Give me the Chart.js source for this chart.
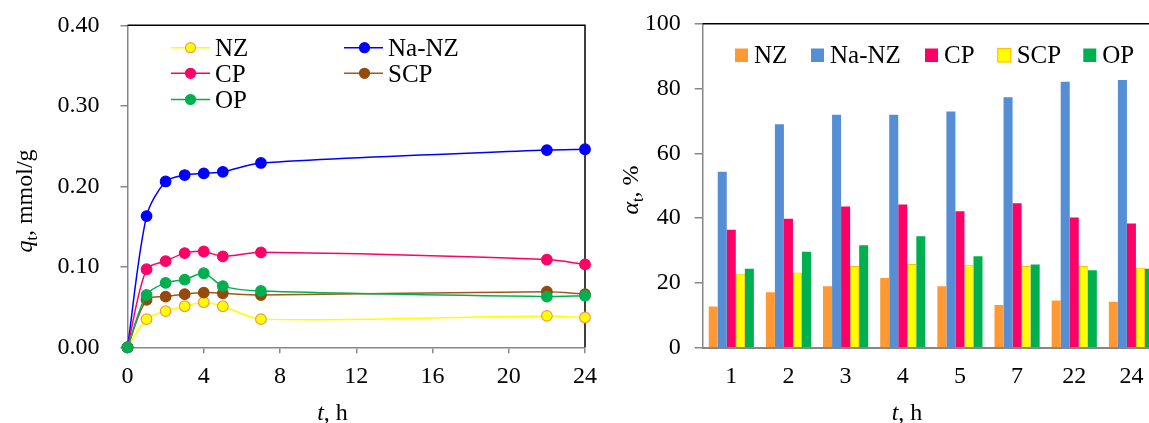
<!DOCTYPE html>
<html>
<head>
<meta charset="utf-8">
<script src="https://cdn.jsdelivr.net/npm/chart.js@4.4.1/dist/chart.umd.min.js"></script>
<style>
    html, body { margin: 0; padding: 0; background: #fff; overflow: hidden; }
    #wrap { position: relative; width: 1149px; height: 423px; overflow: hidden; }
    #leftBox { position: absolute; left: 0; top: 0; }
    #rightBox { position: absolute; left: 600px; top: 0; }
</style>
</head>
<body>
<div id="wrap">
    <div id="leftBox"><canvas id="qtChart" width="600" height="423"></canvas></div>
    <div id="rightBox"><canvas id="alphaChart" width="600" height="423"></canvas></div>
</div>
<script>
// left chart: q_t vs time
const hours = [0, 1, 2, 3, 4, 5, 7, 22, 24];
const qNZ   = [0, 0.035, 0.045, 0.051, 0.056, 0.051, 0.035, 0.039, 0.037];
const qNaNZ = [0, 0.163, 0.206, 0.214, 0.216, 0.218, 0.229, 0.245, 0.246];
const qCP   = [0, 0.097, 0.107, 0.117, 0.119, 0.113, 0.118, 0.109, 0.103];
const qSCP  = [0, 0.059, 0.063, 0.066, 0.068, 0.067, 0.065, 0.069, 0.066];
const qOP   = [0, 0.065, 0.080, 0.084, 0.092, 0.076, 0.070, 0.063, 0.064];

// right chart: alpha_t per time point
const tLabels = ['1', '2', '3', '4', '5', '7', '22', '24'];
const aNZ   = [12.7, 17.1, 19.0, 21.5, 19.0, 13.2, 14.6, 14.2];
const aNaNZ = [54.3, 69.0, 71.9, 71.9, 72.9, 77.3, 82.1, 82.6];
const aCP   = [36.4, 39.8, 43.6, 44.2, 42.1, 44.6, 40.2, 38.3];
const aSCP  = [22.8, 23.2, 25.2, 25.8, 25.6, 25.2, 25.2, 24.7];
const aOP   = [24.4, 29.6, 31.6, 34.4, 28.2, 25.7, 23.9, 24.4];

const SERIF = "'Liberation Serif', 'Times New Roman', serif";
const AXIS_GRAY = '#878787';

function pts(ys) {
    return hours.map((h, i) => ({ x: h, y: ys[i] }));
}

function partFont(p) {
    const size = p.sub ? 16 : (p.size || 24);
    return (p.italic ? 'italic ' : '') + size + 'px ' + SERIF;
}

// draws mixed italic / subscript text centred on (x, y) baseline
function drawRichText(ctx, parts, x, y, angle) {
    ctx.save();
    ctx.translate(x, y);
    ctx.rotate(angle);
    ctx.fillStyle = '#000';
    ctx.textBaseline = 'alphabetic';
    ctx.textAlign = 'left';
    let total = 0;
    parts.forEach(p => { ctx.font = partFont(p); total += ctx.measureText(p.text).width; });
    let cx = -total / 2;
    parts.forEach(p => {
        ctx.font = partFont(p);
        ctx.fillText(p.text, cx, p.sub ? 5 : 0);
        cx += ctx.measureText(p.text).width;
    });
    ctx.restore();
}

// keep the plot box where it is, whatever the tick labels want
function fixBox(size, isX) {
    return s => {
        if (isX) s.height = size; else s.width = size;
        s.paddingTop = 0; s.paddingBottom = 0;
        s.paddingLeft = 0; s.paddingRight = 0;
    };
}

const lineSeries = [
    { label: 'NZ', data: qNZ, line: '#FFFF00', fill: '#FFFF00', edge: '#F79646', order: 4 },
    { label: 'Na-NZ', data: qNaNZ, line: '#0000FF', fill: '#0000FF', edge: '#0000FF', order: 3 },
    { label: 'CP', data: qCP, line: '#FF0066', fill: '#FF0066', edge: '#FF0066', order: 2 },
    { label: 'SCP', data: qSCP, line: '#A5561F', fill: '#954A09', edge: '#954A09', order: 1 },
    { label: 'OP', data: qOP, line: '#00B050', fill: '#00B050', edge: '#00B050', order: 0 }
];

const leftDecor = {
    id: 'leftDecor',
    beforeDatasetsDraw(chart) {
        const ctx = chart.ctx;
        const a = chart.chartArea;
        ctx.save();
        ctx.strokeStyle = '#000';
        ctx.lineWidth = 1.5;
        ctx.beginPath();
        ctx.moveTo(a.left, a.top);
        ctx.lineTo(a.right, a.top);
        ctx.lineTo(a.right, a.bottom);
        ctx.stroke();
        ctx.restore();
    },
    afterDraw(chart) {
        const ctx = chart.ctx;
        // legend, two columns
        const cols = [{ line: 171, mark: 190.5, text: 215 }, { line: 344, mark: 364.5, text: 388 }];
        const rows = [47.7, 73.3, 99.5];
        ctx.save();
        lineSeries.forEach((s, i) => {
            const c = cols[i % 2];
            const y = rows[Math.floor(i / 2)];
            ctx.strokeStyle = s.line;
            ctx.lineWidth = 1.5;
            ctx.beginPath();
            ctx.moveTo(c.line, y);
            ctx.lineTo(c.line + 39, y);
            ctx.stroke();
            ctx.beginPath();
            ctx.arc(c.mark, y, 5, 0, Math.PI * 2);
            ctx.fillStyle = s.fill;
            ctx.fill();
            ctx.strokeStyle = s.edge;
            ctx.lineWidth = 1.2;
            ctx.stroke();
            ctx.fillStyle = '#000';
            ctx.font = '25px ' + SERIF;
            ctx.textBaseline = 'alphabetic';
            ctx.fillText(s.label, c.text, y + 8.3);
        });
        ctx.restore();
        drawRichText(ctx, [{ text: 'q', italic: true }, { text: 't', sub: true }, { text: ', mmol/g' }], 32.3, 201, -Math.PI / 2);
        drawRichText(ctx, [{ text: 't', italic: true }, { text: ', h' }], 332.5, 420, 0);
    }
};

new Chart(document.getElementById('qtChart'), {
    type: 'line',
    data: {
        datasets: lineSeries.map(s => ({
            label: s.label,
            data: pts(s.data),
            borderColor: s.line,
            borderWidth: 1.5,
            pointRadius: 5.3,
            pointBackgroundColor: s.fill,
            pointBorderColor: s.edge,
            pointBorderWidth: 1.2,
            tension: 0.3,
            clip: false,
            order: s.order
        }))
    },
    options: {
        responsive: false,
        animation: false,
        layout: { padding: { top: 25.3, right: 15, left: 0, bottom: 0 } },
        plugins: { legend: { display: false }, tooltip: { enabled: false } },
        scales: {
            x: {
                type: 'linear', min: 0, max: 24,
                ticks: { stepSize: 4, color: '#000', font: { family: SERIF, size: 24 }, padding: 9 },
                grid: { drawOnChartArea: false, tickLength: 6, color: AXIS_GRAY, lineWidth: 1.5 },
                border: { color: AXIS_GRAY, width: 1.5 },
                afterFit: fixBox(75.7, true)
            },
            y: {
                min: 0, max: 0.4,
                ticks: { stepSize: 0.1, color: '#000', font: { family: SERIF, size: 24 }, padding: 21,
                         callback: v => v.toFixed(2) },
                grid: { drawOnChartArea: false, tickLength: 7, color: AXIS_GRAY, lineWidth: 1.5 },
                border: { color: AXIS_GRAY, width: 1.5 },
                afterFit: fixBox(127.5, false)
            }
        }
    },
    plugins: [leftDecor]
});

const barSeries = [
    { label: 'NZ', data: aNZ, fill: '#FF9933', edge: '#FF9933' },
    { label: 'Na-NZ', data: aNaNZ, fill: '#558ED5', edge: '#558ED5' },
    { label: 'CP', data: aCP, fill: '#FF0066', edge: '#FF0066' },
    { label: 'SCP', data: aSCP, fill: '#FFFF00', edge: '#FFC000' },
    { label: 'OP', data: aOP, fill: '#00B050', edge: '#00B050' }
];

const rightDecor = {
    id: 'rightDecor',
    afterDraw(chart) {
        const ctx = chart.ctx;
        const a = chart.chartArea;
        ctx.save();
        ctx.strokeStyle = '#000';
        ctx.lineWidth = 1.5;
        ctx.beginPath();
        ctx.moveTo(a.left, a.top);
        ctx.lineTo(a.right, a.top);
        ctx.stroke();
        // legend, one row
        const boxX = [135, 211, 325, 397.7, 483.3];
        barSeries.forEach((s, i) => {
            ctx.fillStyle = s.fill;
            ctx.fillRect(boxX[i], 48.5, 13, 13.5);
            if (s.edge !== s.fill) {
                ctx.strokeStyle = s.edge;
                ctx.lineWidth = 1.2;
                ctx.strokeRect(boxX[i], 48.5, 13, 13.5);
            }
            ctx.fillStyle = '#000';
            ctx.font = '25px ' + SERIF;
            ctx.textBaseline = 'alphabetic';
            ctx.fillText(s.label, boxX[i] + 19, 63.3);
        });
        ctx.restore();
        drawRichText(ctx, [{ text: 'α', italic: true }, { text: 't', sub: true }, { text: ', %' }], 38, 190, -Math.PI / 2);
        drawRichText(ctx, [{ text: 't', italic: true }, { text: ', h' }], 307, 420, 0);
    }
};

new Chart(document.getElementById('alphaChart'), {
    type: 'bar',
    data: {
        labels: tLabels,
        datasets: barSeries.map(s => ({
            label: s.label,
            data: s.data,
            backgroundColor: s.fill,
            borderColor: s.edge,
            borderWidth: s.edge !== s.fill ? 1 : 0,
            barPercentage: 1.0,
            categoryPercentage: 0.79
        }))
    },
    options: {
        responsive: false,
        animation: false,
        layout: { padding: { top: 23.7, right: 40, left: 0, bottom: 0 } },
        plugins: { legend: { display: false }, tooltip: { enabled: false } },
        scales: {
            x: {
                ticks: { color: '#000', font: { family: SERIF, size: 24 }, padding: 15 },
                grid: { drawOnChartArea: false, drawTicks: false, color: AXIS_GRAY },
                border: { color: AXIS_GRAY, width: 2 },
                afterFit: fixBox(75.3, true)
            },
            y: {
                min: 0, max: 100,
                ticks: { stepSize: 20, color: '#000', font: { family: SERIF, size: 24 }, padding: 14 },
                grid: { drawOnChartArea: false, tickLength: 8, color: AXIS_GRAY, lineWidth: 1.5 },
                border: { color: AXIS_GRAY, width: 1.5 },
                afterFit: fixBox(102.7, false)
            }
        }
    },
    plugins: [rightDecor]
});
</script>
</body>
</html>
